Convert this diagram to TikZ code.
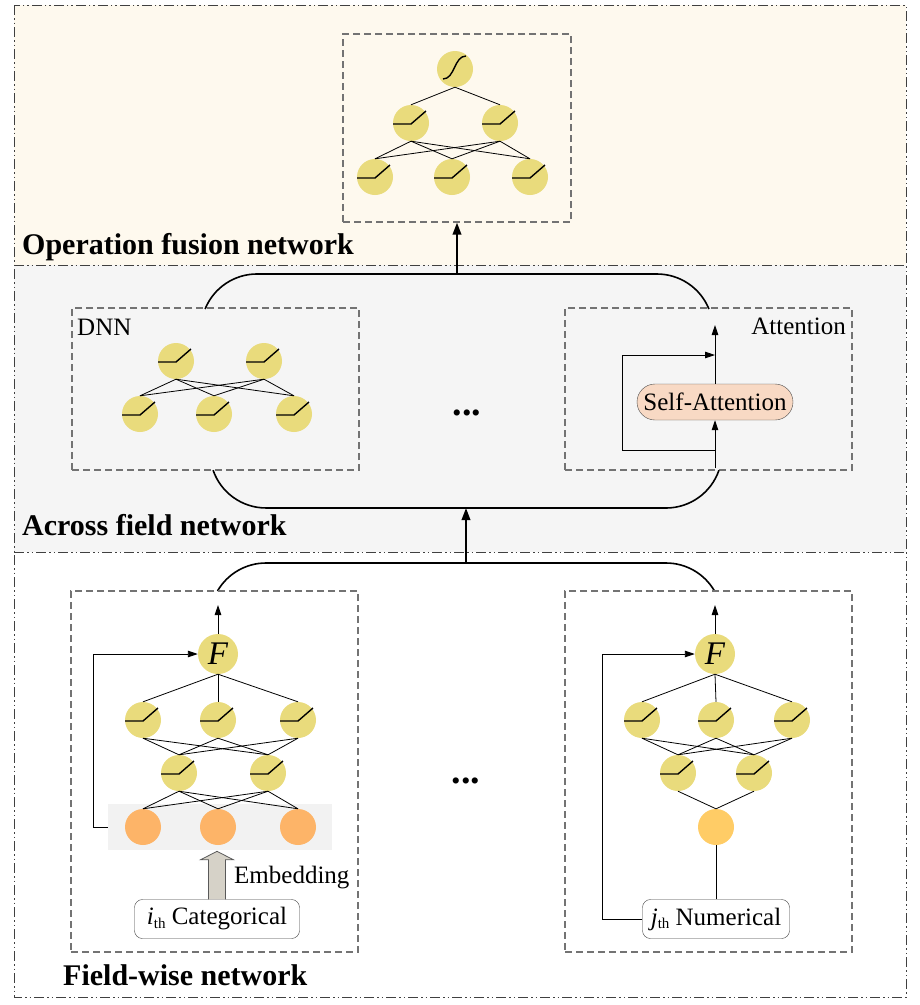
\documentclass[tikz,border=0pt]{standalone}
\usepackage{fontspec}
\setmainfont{Liberation Serif}
\usetikzlibrary{arrows.meta,calc}
\definecolor{cream}{RGB}{254,249,238}
\definecolor{lgray}{RGB}{245,245,245}
\definecolor{nyel}{RGB}{233,219,124}
\definecolor{norg}{RGB}{253,180,104}
\definecolor{nnum}{RGB}{255,204,102}
\definecolor{peach}{RGB}{248,217,196}
\definecolor{embg}{RGB}{242,242,242}
\definecolor{embarr}{RGB}{214,210,200}
\tikzset{
 sect/.style={draw=black!75, line width=0.9pt, dash pattern=on 10pt off 3pt on 1.5pt off 3pt on 1.5pt off 3pt},
 dbox/.style={draw=black!55, line width=1.2pt, dash pattern=on 7pt off 4pt, inner sep=0pt},
 neu/.style={circle, fill=nyel, minimum size=36pt, inner sep=0pt},
 fneu/.style={circle, fill=nyel, minimum size=40pt, inner sep=0pt, font=\fontsize{33}{33}\selectfont\itshape},
 inneu/.style={circle, fill=norg, minimum size=36pt, inner sep=0pt},
 lnk/.style={line width=0.8pt},
 arr/.style={line width=0.9pt, -{Triangle[length=10pt,width=6.5pt]}},
 bigarr/.style={line width=2pt, -{Triangle[length=12pt,width=8.5pt]}},
 capsule/.style={line width=1.6pt},
 txt/.style={font=\fontsize{25}{25}\selectfont},
 sectlab/.style={font=\fontsize{30}{30}\selectfont\bfseries, anchor=base west, inner sep=0pt},
 dotsl/.style={font=\fontsize{38}{38}\selectfont\bfseries, anchor=base, inner sep=0pt},
 relu/.pic={\draw[line width=1.4pt] (-18,-1) -- (0,-1) -- (15,12);},
 sigm/.pic={\draw[line width=1.4pt] (-12,-10) .. controls (0,-10) and (-1,13) .. (11,13);},
}
\begin{document}
\begin{tikzpicture}[x=1pt,y=1pt]
\useasboundingbox (0,0) rectangle (920,-1005);
% sections
\path[fill=cream] (14,-5) rectangle (906,-265);
\path[fill=lgray] (14,-265) rectangle (906,-552);
\draw[sect] (14,-5) rectangle (906,-997);
\draw[sect] (14,-265) -- (906,-265);
\draw[sect] (14,-552) -- (906,-552);
\node[sectlab] (l1) at (22,-254) {Operation fusion network};
\node[sectlab] (l2) at (22,-535) {Across field network};
\node[sectlab] (l3) at (63,-985) {Field-wise network};

% ---------- top: operation fusion ----------
\node[dbox, minimum width=228pt, minimum height=188pt] (tb) at (457,-128) {};
\node[neu] (s) at (455,-69) {};
\node[neu] (ta) at (411,-123) {};
\node[neu] (tbn) at (500,-123) {};
\node[neu] (tc1) at (375,-177) {};
\node[neu] (tc2) at (452,-177) {};
\node[neu] (tc3) at (530,-177) {};
\pic at (s) {sigm};
\foreach \n in {ta,tbn,tc1,tc2,tc3} {\pic at (\n) {relu};}
\draw[lnk] (s.south) -- (ta.north);
\draw[lnk] (s.south) -- (tbn.north);
\foreach \u in {ta,tbn} {\foreach \v in {tc1,tc2,tc3} {\draw[lnk] (\u.south) -- (\v.north);}}

% ---------- middle: across field ----------
\node[dbox, minimum width=287pt, minimum height=162pt] (dnn) at (215.5,-389) {};
\node[dbox, minimum width=287pt, minimum height=162pt] (att) at (708.5,-389) {};
\node[txt, anchor=base west, inner sep=0pt] (dnnl) at (77,-335) {DNN};
\node[txt, anchor=base east, inner sep=0pt] (attl) at (846,-334) {Attention};
\node[neu] (d1) at (176,-361) {};
\node[neu] (d2) at (264,-361) {};
\node[neu] (d3) at (140,-414) {};
\node[neu] (d4) at (214,-414) {};
\node[neu] (d5) at (294,-414) {};
\foreach \n in {d1,d2,d3,d4,d5} {\pic at (\n) {relu};}
\foreach \u in {d1,d2} {\foreach \v in {d3,d4,d5} {\draw[lnk] (\u.south) -- (\v.north);}}
\node[dotsl] (dots1) at (467,-415) {...};
\node[draw=black!70, fill=peach, rounded corners=18pt, minimum width=156pt, minimum height=36pt, inner sep=0pt, txt] (sa) at (715,-402) {Self-Attention};
\coordinate (ain) at (715,-468);
\coordinate (aout) at (715,-325);
\coordinate (sk1) at (715,-450);
\coordinate (sk2) at (715,-355);
\draw[arr] (ain) -- (sa.south);
\draw[arr] (sa.north) -- (aout);
\draw[arr] (sk1) -- ++(-93,0) |- (sk2);
% capsule lines
\draw[capsule] (205.1,-309) arc[start angle=158,end angle=90,radius=56] -- (657,-274) arc[start angle=90,end angle=22,radius=56];
\draw[capsule] (213.1,-470.2) arc[start angle=199,end angle=270,radius=56] -- (666,-508) arc[start angle=270,end angle=341,radius=56];
\coordinate (c1) at (457,-274);
\draw[bigarr] (c1) -- (tb.south);

% ---------- bottom: field-wise ----------
\draw[capsule] (217.5,-591) arc[start angle=150,end angle=90,radius=56] -- (666,-563) arc[start angle=90,end angle=30,radius=56];
\coordinate (c2) at (466,-563);
\coordinate (c3) at (466,-508);
\draw[bigarr] (c2) -- (c3);

\node[dbox, minimum width=287pt, minimum height=361pt] (lb) at (214.5,-771.5) {};
\node[dbox, minimum width=287pt, minimum height=361pt] (rb) at (708.5,-771.5) {};

% left: categorical
\node[fill=embg, minimum width=224pt, minimum height=46pt, inner sep=0pt] (emb) at (220,-827) {};
\node[fneu] (fa) at (218,-654) {F};
\node[neu] (a1) at (143,-720) {};
\node[neu] (a2) at (218,-720) {};
\node[neu] (a3) at (298,-720) {};
\node[neu] (b1) at (179,-773) {};
\node[neu] (b2) at (268,-773) {};
\node[inneu] (e1) at (143,-827) {};
\node[inneu] (e2) at (218,-827) {};
\node[inneu] (e3) at (298,-827) {};
\foreach \n in {a1,a2,a3,b1,b2} {\pic at (\n) {relu};}
\foreach \v in {a1,a2,a3} {\draw[lnk] (fa.south) -- (\v.north);}
\foreach \u in {a1,a2,a3} {\foreach \v in {b1,b2} {\draw[lnk] (\u.south) -- (\v.north);}}
\foreach \u in {b1,b2} {\foreach \v in {e1,e2,e3} {\draw[lnk] (\u.south) -- (\v.north);}}
\coordinate (fao) at (218,-605);
\draw[arr] (fa.north) -- (fao);
\draw[arr] (emb.west) -- ++(-14,0) |- (fa.west);
\node[draw=black!75, fill=white, rounded corners=8pt, minimum width=165pt, minimum height=39pt, inner sep=0pt, txt] (cat) at (217,-919) {{\itshape i}\raisebox{-0.3ex}{\fontsize{15}{15}\selectfont th} Categorical};
\draw[black!65, fill=embarr, line width=0.8pt] ($(cat.north)+(-8.5,0)$) -- ($(cat.north)+(-8.5,39.5)$) -- ($(cat.north)+(-16.5,39.5)$) -- ($(cat.north)+(0,48)$) -- ($(cat.north)+(16.5,39.5)$) -- ($(cat.north)+(8.5,39.5)$) -- ($(cat.north)+(8.5,0)$);
\node[txt, anchor=west, inner sep=0pt] (embl) at (234,-878) {Embedding};

\node[dotsl] (dots2) at (466,-783) {...};

% right: numerical
\node[fneu] (fb) at (715,-654) {F};
\node[neu] (g1) at (642,-720) {};
\node[neu] (g2) at (716,-720) {};
\node[neu] (g3) at (792,-720) {};
\node[neu] (h1) at (678,-773) {};
\node[neu] (h2) at (754,-773) {};
\node[circle, fill=nnum, minimum size=36pt, inner sep=0pt] (o) at (716,-827) {};
\foreach \n in {g1,g2,g3,h1,h2} {\pic at (\n) {relu};}
\foreach \v in {g1,g2,g3} {\draw[lnk] (fb.south) -- (\v.north);}
\foreach \u in {g1,g2,g3} {\foreach \v in {h1,h2} {\draw[lnk] (\u.south) -- (\v.north);}}
\foreach \u in {h1,h2} {\draw[lnk] (\u.south) -- (o.north);}
\node[draw=black!75, fill=white, rounded corners=8pt, minimum width=147pt, minimum height=39pt, inner sep=0pt, txt] (numn) at (716,-919) {{\itshape j}\raisebox{-0.3ex}{\fontsize{15}{15}\selectfont th} Numerical};
\draw[lnk] (numn.north) -- (o.south);
\coordinate (fbo) at (715,-605);
\draw[arr] (fb.north) -- (fbo);
\draw[arr] (numn.west) -- ++(-40,0) |- (fb.west);
\end{tikzpicture}
\end{document}
